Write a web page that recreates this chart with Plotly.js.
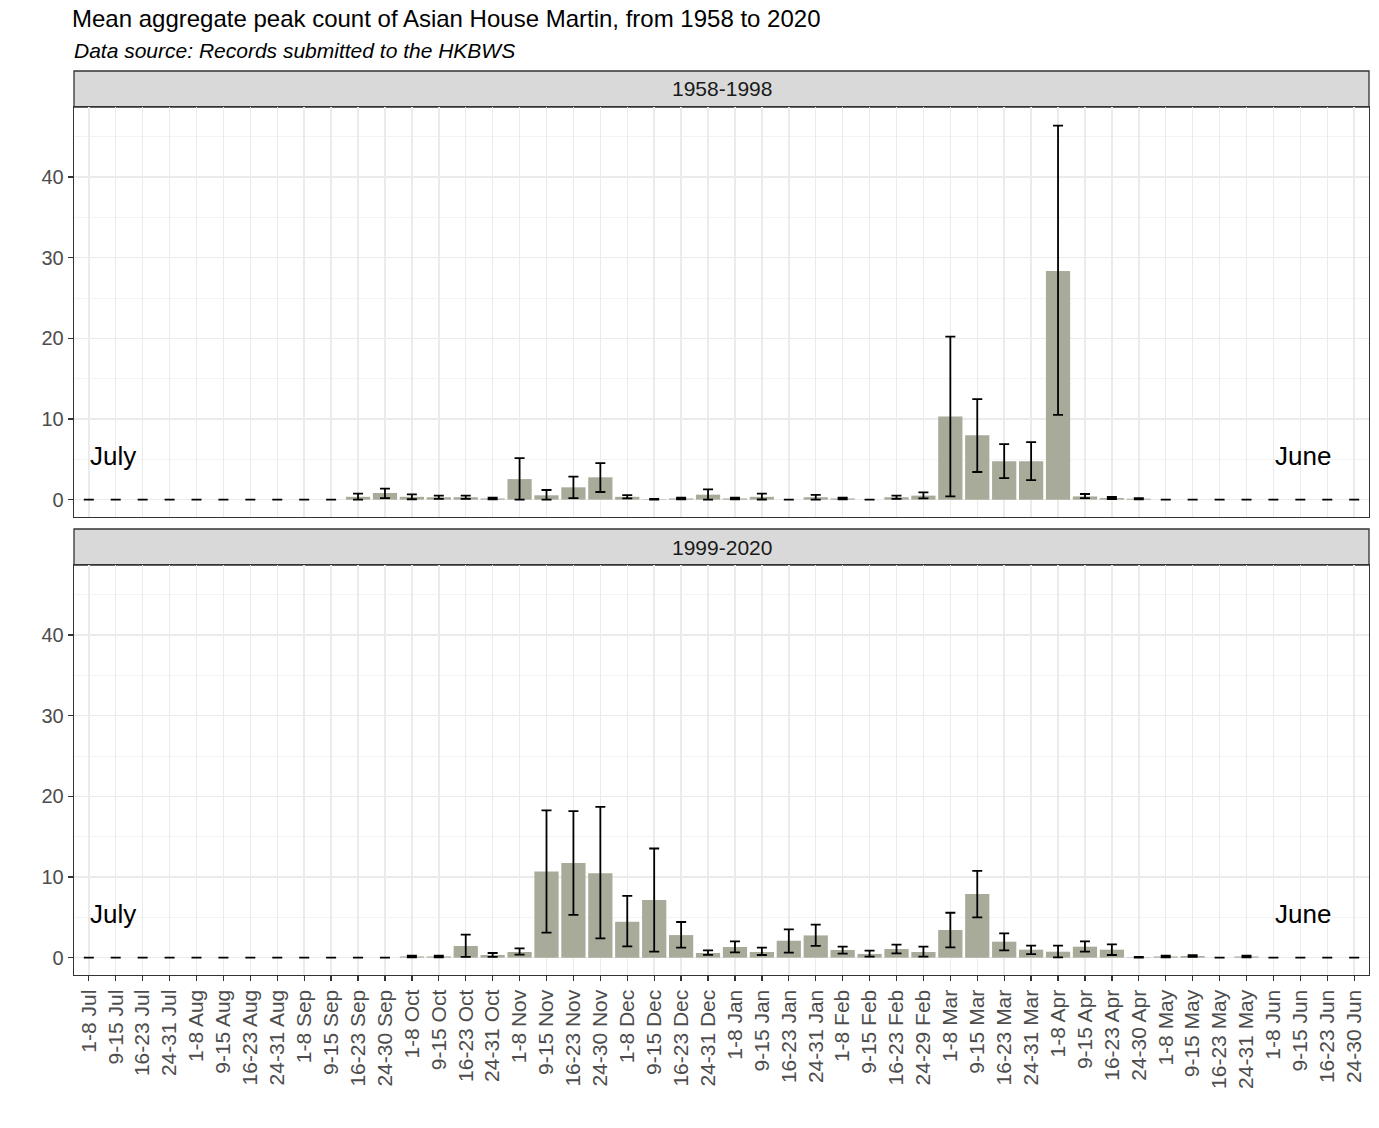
<!DOCTYPE html>
<html>
<head>
<meta charset="utf-8">
<script src="https://cdn.plot.ly/plotly-3.0.1.min.js"></script>
<style>html,body{margin:0;padding:0;background:#fff;}#chart{width:1379px;height:1128px;}</style>
</head>
<body>
<div id="chart"></div>
<script>
const categories = [
  "1-8 Jul","9-15 Jul","16-23 Jul","24-31 Jul",
  "1-8 Aug","9-15 Aug","16-23 Aug","24-31 Aug",
  "1-8 Sep","9-15 Sep","16-23 Sep","24-30 Sep",
  "1-8 Oct","9-15 Oct","16-23 Oct","24-31 Oct",
  "1-8 Nov","9-15 Nov","16-23 Nov","24-30 Nov",
  "1-8 Dec","9-15 Dec","16-23 Dec","24-31 Dec",
  "1-8 Jan","9-15 Jan","16-23 Jan","24-31 Jan",
  "1-8 Feb","9-15 Feb","16-23 Feb","24-29 Feb",
  "1-8 Mar","9-15 Mar","16-23 Mar","24-31 Mar",
  "1-8 Apr","9-15 Apr","16-23 Apr","24-30 Apr",
  "1-8 May","9-15 May","16-23 May","24-31 May",
  "1-8 Jun","9-15 Jun","16-23 Jun","24-30 Jun"
];

// 1958-1998
const meanEarly = [0,0,0,0, 0,0,0,0, 0,0,0.35,0.83, 0.35,0.3,0.3,0.15, 2.55,0.54,1.53,2.77, 0.35,0.05,0.15,0.62,
  0.15,0.35,0,0.3, 0.15,0,0.3,0.5, 10.3,7.97,4.75,4.75, 28.36,0.4,0.2,0.12, 0,0,0,0, 0,0,0,0];
const lowEarly = [0,0,0,0, 0,0,0,0, 0,0,0,0.2, 0.05,0.1,0.1,0.05, 0,0,0.2,0.95, 0.15,0,0.05,0,
  0.05,0.02,0,0, 0.05,0,0.1,0.15, 0.4,3.43,2.68,2.43, 10.5,0.2,0.08,0.05, 0,0,0,0, 0,0,0,0];
const highEarly = [0,0,0,0, 0,0,0,0, 0,0,0.74,1.36, 0.66,0.5,0.5,0.25, 5.15,1.2,2.85,4.54, 0.55,0.1,0.25,1.28,
  0.25,0.75,0,0.6, 0.25,0,0.5,0.9, 20.2,12.47,6.89,7.14, 46.36,0.7,0.33,0.2, 0,0,0,0, 0,0,0,0];

// 1999-2020
const meanLate = [0,0,0,0, 0,0,0,0, 0,0,0,0, 0.15,0.15,1.45,0.33, 0.7,10.68,11.72,10.47, 4.46,7.14,2.8,0.58,
  1.32,0.7,2.1,2.76, 0.95,0.46,1.07,0.7, 3.43,7.89,1.98,0.99, 0.74,1.36,0.99,0.05, 0.15,0.2,0,0.15, 0,0,0,0];
const lowLate = [0,0,0,0, 0,0,0,0, 0,0,0,0, 0.05,0.05,0.1,0.1, 0.37,3.1,5.3,2.4, 1.4,0.74,1.24,0.35,
  0.66,0.33,0.62,1.45, 0.5,0.12,0.54,0.12, 1.28,4.99,0.9,0.45, 0.04,0.74,0.33,0, 0.05,0.1,0,0.05, 0,0,0,0];
const highLate = [0,0,0,0, 0,0,0,0, 0,0,0,0, 0.25,0.25,2.85,0.58, 1.15,18.27,18.16,18.7, 7.67,13.53,4.42,0.9,
  2.02,1.24,3.5,4.09, 1.36,0.87,1.61,1.36, 5.57,10.77,3.0,1.49, 1.49,2.02,1.65,0.1, 0.25,0.3,0,0.25, 0,0,0,0];

const panelTitles = ["1958-1998", "1999-2020"];
const titleText = "Mean aggregate peak count of Asian House Martin, from 1958 to 2020";
const subtitleText = "Data source: Records submitted to the HKBWS";
const yTicks = [0, 10, 20, 30, 40];

const barColor = "#A8AA9A";
const FONT = "Liberation Sans, Arial, sans-serif";

function makeTrace(mean, lo, hi, xa, ya) {
  return {
    type: "bar",
    x: categories,
    y: mean,
    xaxis: xa, yaxis: ya,
    marker: {color: barColor, line: {width: 0}},
    error_y: {
      type: "data", symmetric: false,
      array: hi.map((h, i) => Math.max(0, h - mean[i])),
      arrayminus: lo.map((l, i) => Math.max(0, mean[i] - l)),
      color: "#000000", thickness: 1.8, width: 5
    },
    hoverinfo: "x+y",
    showlegend: false
  };
}

const data = [
  makeTrace(meanEarly, lowEarly, highEarly, "x2", "y2"),
  makeTrace(meanLate, lowLate, highLate, "x", "y")
];

const H = 868; // plot area height in px
const strip = 36 / H;
const botTop = 410 / H;
const topBot = 1 - 410 / H;

const yRange = [-2.15, 48.68];
const xRange = [-0.55, 47.55];

const yCommon = {
  range: yRange, tickvals: yTicks, ticktext: yTicks.map(String),
  showgrid: true, gridcolor: "#EBEBEB", gridwidth: 1.5,
  minor: {dtick: 5, tick0: 0, showgrid: true, gridcolor: "#F3F3F3", gridwidth: 1},
  zeroline: false, showline: true, mirror: true, linecolor: "#333333", linewidth: 1.3,
  ticks: "outside", ticklen: 5, tickwidth: 1.3, tickcolor: "#333333",
  tickfont: {family: FONT, size: 20, color: "#4D4D4D"},
  fixedrange: true
};
const xCommon = {
  type: "category", range: xRange,
  showgrid: true, gridcolor: "#EBEBEB", gridwidth: 1.5,
  zeroline: false, showline: true, mirror: true, linecolor: "#333333", linewidth: 1.3,
  fixedrange: true
};

const layout = {
  width: 1379, height: 1128,
  margin: {l: 74, r: 10, t: 107, b: 153, pad: 0},
  paper_bgcolor: "#ffffff", plot_bgcolor: "#ffffff",
  bargap: 0.1,
  title: {
    text: titleText,
    font: {family: FONT, size: 24, color: "#000000"},
    x: 72 / 1379, xref: "container", xanchor: "left",
    y: 1 - 19 / 1128, yref: "container", yanchor: "middle"
  },
  xaxis: Object.assign({}, xCommon, {
    anchor: "y", domain: [0, 1],
    ticks: "outside", ticklen: 5, tickwidth: 1.3, tickcolor: "#333333",
    tickangle: -90,
    tickfont: {family: FONT, size: 21, color: "#4D4D4D"}
  }),
  xaxis2: Object.assign({}, xCommon, {
    anchor: "y2", domain: [0, 1], matches: "x",
    showticklabels: false, ticks: ""
  }),
  yaxis: Object.assign({}, yCommon, {anchor: "x", domain: [0, botTop]}),
  yaxis2: Object.assign({}, yCommon, {anchor: "x2", domain: [topBot, 1]}),
  shapes: [
    {type: "rect", xref: "paper", yref: "paper", x0: 0, x1: 1, y0: 1, y1: 1 + strip,
     fillcolor: "#D9D9D9", line: {color: "#333333", width: 1.3}, layer: "below"},
    {type: "rect", xref: "paper", yref: "paper", x0: 0, x1: 1, y0: botTop, y1: botTop + strip,
     fillcolor: "#D9D9D9", line: {color: "#333333", width: 1.3}, layer: "below"}
  ],
  annotations: [
    {text: "<i>" + subtitleText + "</i>", xref: "paper", yref: "paper",
     x: -2 / 1295, y: (975 - 50) / H, xanchor: "left", yanchor: "middle", showarrow: false,
     font: {family: FONT, size: 21, color: "#000000"}},
    {text: panelTitles[0], xref: "paper", yref: "paper", x: 0.5, y: 1 + strip / 2,
     xanchor: "center", yanchor: "middle", showarrow: false,
     font: {family: FONT, size: 21, color: "#1A1A1A"}},
    {text: panelTitles[1], xref: "paper", yref: "paper", x: 0.5, y: botTop + strip / 2,
     xanchor: "center", yanchor: "middle", showarrow: false,
     font: {family: FONT, size: 21, color: "#1A1A1A"}},
    {text: "July", xref: "x2", yref: "y2", x: 0.9, y: 5.45, showarrow: false,
     xanchor: "center", yanchor: "middle", font: {family: FONT, size: 26, color: "#000000"}},
    {text: "June", xref: "x2", yref: "y2", x: 45.1, y: 5.45, showarrow: false,
     xanchor: "center", yanchor: "middle", font: {family: FONT, size: 26, color: "#000000"}},
    {text: "July", xref: "x", yref: "y", x: 0.9, y: 5.45, showarrow: false,
     xanchor: "center", yanchor: "middle", font: {family: FONT, size: 26, color: "#000000"}},
    {text: "June", xref: "x", yref: "y", x: 45.1, y: 5.45, showarrow: false,
     xanchor: "center", yanchor: "middle", font: {family: FONT, size: 26, color: "#000000"}}
  ]
};

Plotly.newPlot("chart", data, layout, {displayModeBar: false, staticPlot: true});
</script>
</body>
</html>
